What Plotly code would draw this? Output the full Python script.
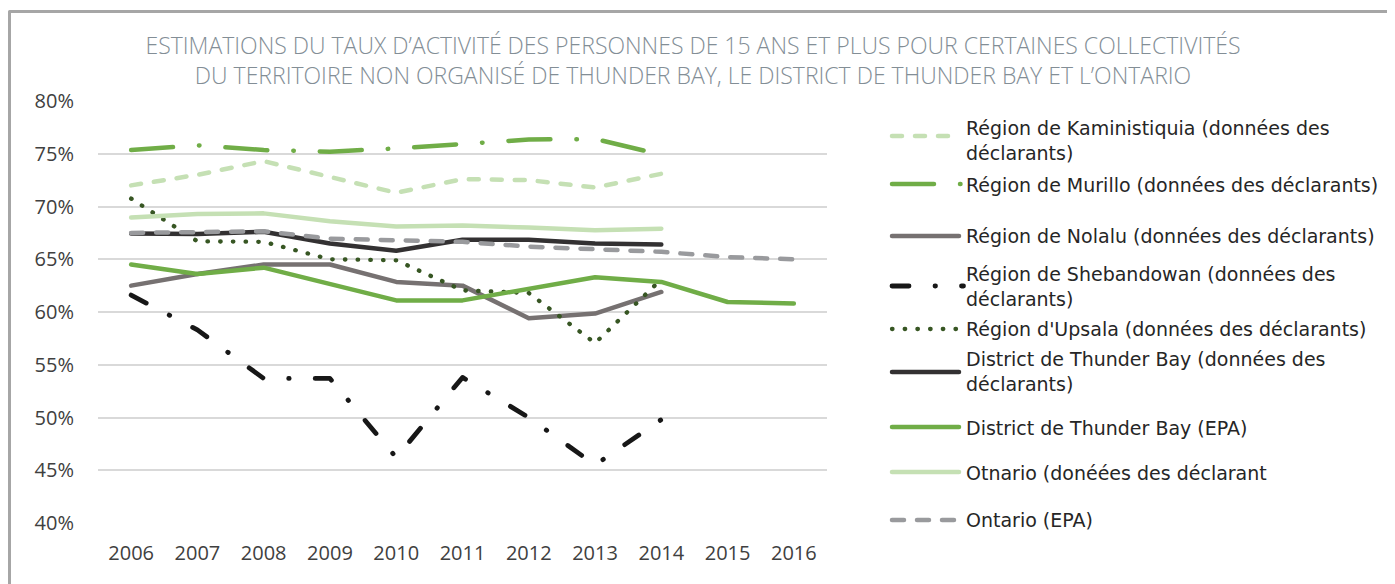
import plotly.graph_objects as go

# ---------------- data ----------------
years = ["2006", "2007", "2008", "2009", "2010", "2011", "2012", "2013", "2014", "2015", "2016"]
years_short = years[:9]

kaministiquia = [72.0, 73.0, 74.3, 72.8, 71.3, 72.6, 72.5, 71.8, 73.1]
murillo = [75.35, 75.8, 75.35, 75.2, 75.5, 75.9, 76.35, 76.4, 74.9]
nolalu = [62.5, 63.6, 64.5, 64.5, 62.85, 62.5, 59.4, 59.85, 61.9]
shebandowan = [61.6, 58.3, 53.7, 53.7, 46.2, 53.8, 50.0, 45.5, 49.8]
upsala = [70.75, 66.7, 66.65, 65.0, 64.9, 62.05, 61.8, 57.05, 63.1]
tb_declarants = [67.45, 67.4, 67.6, 66.5, 65.8, 66.85, 66.85, 66.5, 66.4]
tb_epa = [64.5, 63.6, 64.2, 62.6, 61.1, 61.1, 62.2, 63.3, 62.85, 60.95, 60.8]
on_declarants = [68.95, 69.3, 69.35, 68.6, 68.1, 68.2, 68.0, 67.75, 67.9]
on_epa = [67.5, 67.6, 67.65, 66.95, 66.8, 66.65, 66.2, 66.0, 65.7, 65.2, 65.0]

y_ticks = [40, 45, 50, 55, 60, 65, 70, 75, 80]
y_tick_labels = ["40%", "45%", "50%", "55%", "60%", "65%", "70%", "75%", "80%"]

title_text = ("ESTIMATIONS DU TAUX D’ACTIVITÉ DES PERSONNES DE 15 ANS ET PLUS POUR CERTAINES COLLECTIVITÉS"
              "<br>DU TERRITOIRE NON ORGANISÉ DE THUNDER BAY, LE DISTRICT DE THUNDER BAY ET L’ONTARIO")

# name, x, y, color, width, dash, legend text
series = [
    ("Région de Kaministiquia (données des déclarants)", years_short, kaministiquia, "#C5E0B4", 4.5, "10px,13px",
     "Région de Kaministiquia (données des<br>déclarants)"),
    ("Région de Murillo (données des déclarants)", years_short, murillo, "#70AD47", 4.5, "42px,26px,0.5px,26px",
     "Région de Murillo (données des déclarants)"),
    ("Région de Nolalu (données des déclarants)", years_short, nolalu, "#767171", 4.5, "solid",
     "Région de Nolalu (données des déclarants)"),
    ("Région de Shebandowan (données des déclarants)", years_short, shebandowan, "#171717", 4.8, "17px,26px,0.5px,26px",
     "Région de Shebandowan (données des<br>déclarants)"),
    ("Région d'Upsala (données des déclarants)", years_short, upsala, "#375623", 4.3, "0.5px,12.2px",
     "Région d'Upsala (données des déclarants)"),
    ("District de Thunder Bay (données des déclarants)", years_short, tb_declarants, "#333132", 4.5, "solid",
     "District de Thunder Bay (données des<br>déclarants)"),
    ("District de Thunder Bay (EPA)", years, tb_epa, "#70AD47", 4.5, "solid",
     "District de Thunder Bay (EPA)"),
    ("Otnario (donéées des déclarant", years_short, on_declarants, "#C5E0B4", 4.5, "solid",
     "Otnario (donéées des déclarant"),
    ("Ontario (EPA)", years, on_epa, "#999A9D", 4.5, "12px,13px",
     "Ontario (EPA)"),
]

# legend layout (pixel positions on the 1395x584 page)
legend_symbol_y = [136, 184, 236, 286, 329, 372, 427, 472, 520]
legend_symbol_end = [959, 961, 959, 963.5, 959, 959, 959, 959, 959]
legend_text_y = [140.5, 185, 236, 286.5, 329, 371, 428, 473, 520]

# the page body has an 8px margin around the figure
OFF = 8
W, H = 1395 - OFF, 584 - OFF
PL, PR, PT, PB = 98 - OFF, 827 - OFF, 101 - OFF, 523 - OFF


def px_x(x):  # page x -> paper
    return (x - OFF - PL) / (PR - PL)


def px_y(y):  # page y -> paper
    return (PB - (y - OFF)) / (PB - PT)


fig = go.Figure()
for name, xs, ys, color, width, dash, _ in series:
    fig.add_trace(go.Scatter(
        x=xs, y=ys, name=name, mode="lines",
        line=dict(color=color, width=width, dash=dash),
        showlegend=False, hoverinfo="x+y+name",
    ))

shapes = []
annotations = []
for (name, xs, ys, color, width, dash, label), sy, sx1, ty in zip(series, legend_symbol_y,
                                                                  legend_symbol_end, legend_text_y):
    shapes.append(dict(type="line", xref="paper", yref="paper",
                       x0=px_x(892), x1=px_x(sx1), y0=px_y(sy), y1=px_y(sy),
                       line=dict(color=color, width=width, dash=dash)))
    annotations.append(dict(text=label, xref="paper", yref="paper", x=px_x(964), y=px_y(ty),
                            xanchor="left", yanchor="middle", align="left", showarrow=False,
                            font=dict(family="DejaVu Sans", size=19, color="#262626")))

# outer frame
shapes.append(dict(type="rect", xref="paper", yref="paper",
                   x0=px_x(9.5), x1=px_x(1430), y0=px_y(640), y1=px_y(11.5),
                   line=dict(color="#A6A6A6", width=3), layer="below"))

fig.update_layout(
    width=W, height=H,
    margin=dict(l=PL, r=W - PR, t=PT, b=H - PB),
    paper_bgcolor="white", plot_bgcolor="white",
    title=dict(text=title_text, x=(693 - OFF) / W, xanchor="center", xref="container",
               y=1 - (54 - OFF) / H, yanchor="middle", yref="container",
               font=dict(family="Open Sans", size=23, color="#838E96", weight=300)),
    xaxis=dict(type="category", categoryorder="array", categoryarray=years,
               range=[-0.5, 10.5], showgrid=False, zeroline=False, showline=False,
               ticks="", ticklabelstandoff=16,
               tickfont=dict(family="Open Sans", size=20, color="#404040")),
    yaxis=dict(range=[40, 80], tickmode="array", tickvals=y_ticks, ticktext=y_tick_labels,
               showgrid=True, gridcolor="#D9D9D9", gridwidth=2, zeroline=False, showline=False,
               ticks="", ticklabelstandoff=23,
               tickfont=dict(family="Open Sans", size=20, color="#404040")),
    shapes=shapes, annotations=annotations,
    showlegend=False,
)

post = """
var gd = document.getElementById('{plot_id}');
function roundCaps(){
  gd.querySelectorAll('.scatterlayer path.js-line, .shapelayer path').forEach(function(p){
    p.style.strokeLinecap = 'round'; p.style.strokeLinejoin = 'round';
  });
}
roundCaps();
if (gd.on) { gd.on('plotly_afterplot', roundCaps); }
"""

fig.write_html("out.html", post_script=post)
